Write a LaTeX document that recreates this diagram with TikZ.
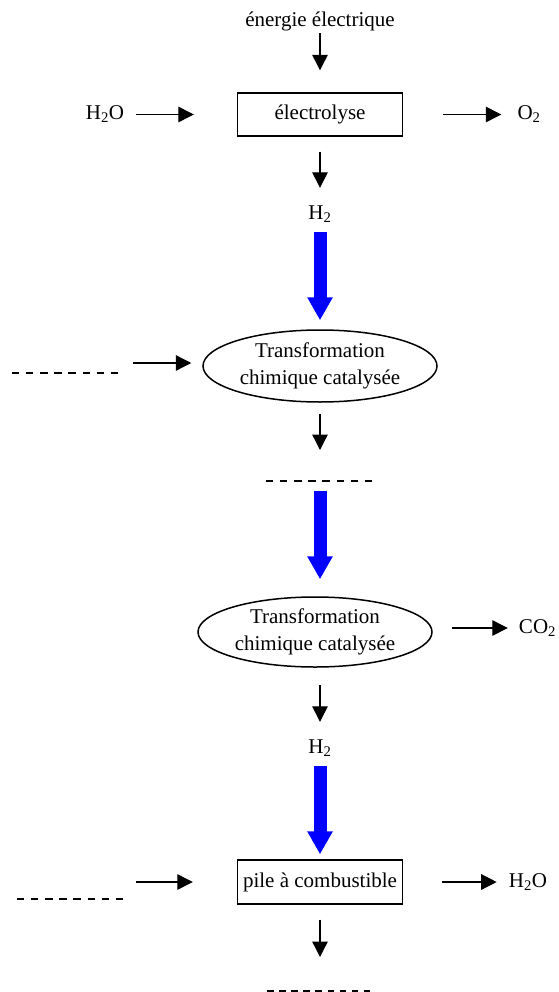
\documentclass[tikz,border=0pt]{standalone}
\usepackage{fontspec}
\setmainfont{Liberation Serif}
\usetikzlibrary{arrows.meta,shapes.geometric}
\begin{document}
\begin{tikzpicture}[x=1pt,y=-1pt,
  font=\fontsize{21pt}{26.5pt}\selectfont,
  lbl/.style={inner sep=0pt,text height=14pt,text depth=4pt},
  procbox/.style={draw,line width=1.4pt,minimum width=165pt,minimum height=43pt,inner sep=0pt},
  reacell/.style={draw,ellipse,line width=1.5pt,minimum width=234pt,minimum height=72pt,inner sep=0pt,align=center},
  arr/.style={line width=1.3pt,-{Triangle[length=15.5pt,width=15.5pt]}},
  bigarr/.style={line width=13pt,blue,-{Triangle[length=23pt,width=24pt]}},
  blank/.style={line width=1.4pt,dash pattern=on 7.3pt off 6.8pt},
  blankb/.style={line width=1.4pt,dash pattern=on 6.5pt off 5.6pt}]
\useasboundingbox (0,0) rectangle (558,992);

% nodes
\node[lbl] (energie) at (320,22) {énergie électrique};
\node[procbox] (elec) at (320,114.5) {électrolyse};
\node[lbl] (h2oa) at (105,114.5) {H\textsubscript{2}O};
\node[lbl] (o2) at (529,114.5) {O\textsubscript{2}};
\node[lbl] (h2a) at (320,214) {H\textsubscript{2}};
\node[reacell] (tr1) at (320,366) {Transformation\\chimique catalysée};
\node[reacell,minimum height=70pt] (tr2) at (315,632) {Transformation\\chimique catalysée};
\node[lbl] (co2) at (537.5,628) {CO\textsubscript{2}};
\node[lbl] (h2b) at (320,748) {H\textsubscript{2}};
\node[procbox,minimum height=44pt] (pile) at (320,882) {pile à combustible};
\node[lbl] (h2oc) at (528,882) {H\textsubscript{2}O};

% blanks
\coordinate (b1l) at (12,373);  \coordinate (b1r) at (118,373);
\coordinate (b2l) at (266,481); \coordinate (b2r) at (372,481); \coordinate (b2) at (320,481);
\coordinate (b3l) at (17,899);  \coordinate (b3r) at (123,899);
\coordinate (b4l) at (267,991); \coordinate (b4r) at (372,991); \coordinate (b4) at (320,991);
\draw[blank] (b1l) -- (b1r);
\draw[blank] (b2l) -- (b2r);
\draw[blank] (b3l) -- (b3r);
\draw[blankb] (b4l) -- (b4r);

% connectors
\draw[arr] ([yshift=-2pt]energie.south) -- ([yshift=22pt]elec.north);
\draw[arr] ([xshift=12pt]h2oa.east) -- ([xshift=-43pt]elec.west);
\draw[arr] ([xshift=40pt]elec.east) -- ([xshift=-16pt]o2.west);
\draw[arr] ([yshift=-15pt]elec.south) -- ([yshift=17pt]h2a.north);
\draw[bigarr] ([yshift=-9pt]h2a.south) -- ([yshift=9pt]tr1.north);
\draw[arr] ([xshift=15pt,yshift=10pt]b1r) -- ([xshift=-11pt,yshift=3pt]tr1.west);
\draw[arr] ([yshift=-11pt]tr1.south) -- ([yshift=31pt]b2);
\draw[bigarr] ([yshift=-10pt]b2) -- ([xshift=5pt,yshift=17pt]tr2.north);
\draw[arr] ([xshift=19pt,yshift=4pt]tr2.east) -- ([xshift=-11pt]co2.west);
\draw[arr] ([xshift=5pt,yshift=-17pt]tr2.south) -- ([yshift=17pt]h2b.north);
\draw[bigarr] ([yshift=-9pt]h2b.south) -- ([yshift=5pt]pile.north);
\draw[arr] ([xshift=13pt,yshift=17pt]b3r) -- ([xshift=-44pt]pile.west);
\draw[arr] ([xshift=39pt]pile.east) -- ([xshift=-12pt]h2oc.west);
\draw[arr] ([yshift=-15pt]pile.south) -- ([yshift=34pt]b4);
\end{tikzpicture}
\end{document}
